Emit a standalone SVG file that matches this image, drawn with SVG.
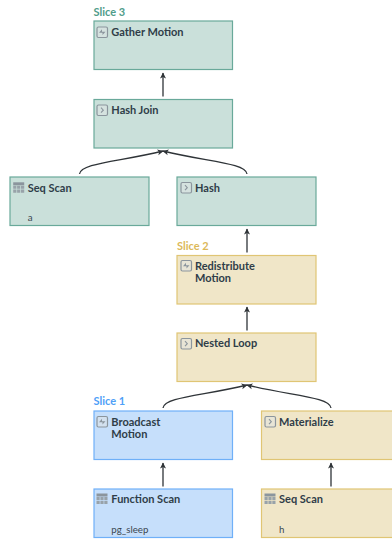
<svg xmlns="http://www.w3.org/2000/svg" width="392" height="540" viewBox="0 0 392 540">
<style>
.box{stroke-width:1.2}
.s3{fill:#cae0da;stroke:#69a99a}
.s2{fill:#f0e6c8;stroke:#e0c574}
.s1{fill:#c6dffb;stroke:#6fb0f8}
.t{font:700 11px Lato,sans-serif;fill:#2f3d48}
.d{font:400 9.700px Lato,sans-serif;fill:#3a4650}
.sl{font:700 11px Lato,sans-serif}
.ic{fill:none;stroke:#8b959d;stroke-width:1.1}
.icb{fill:#dfe3e4;fill-opacity:.5;stroke:#8b959d;stroke-width:1.2}
.c{fill:none;stroke:#2f3438;stroke-width:1.3;marker-end:url(#a)}
</style>
<defs>
<marker id="a" markerUnits="userSpaceOnUse" markerWidth="8" markerHeight="8" refX="6" refY="4" orient="auto"><path d="M0.5 1L6.5 4L0.5 7L2 4Z" fill="#2f3438"/></marker>
<g id="iop"><rect class="icb" x="0.5" y="0.5" width="10.500" height="10.500" rx="1.5"/><path class="ic" d="M4.500 3.200L6.800 5.700L4.500 8.200"/></g>
<g id="imo"><rect class="icb" x="0.5" y="0.5" width="10.500" height="10.500" rx="1.5"/><path d="M2.500 6.200L5.500 2.800V5.200H9L6 8.600V6.200Z" fill="#8b959d"/></g>
<g id="itb"><rect x="0" y="0" width="11" height="3" fill="#8b959d"/><path d="M0 3.500H3.200V6.500H0ZM3.900 3.500H7.100V6.500H3.900ZM7.800 3.500H11V6.500H7.800ZM0 7.200H3.200V10.500H0ZM3.900 7.200H7.100V10.500H3.900ZM7.800 7.200H11V10.500H7.800Z" fill="#98a2a9"/></g>
</defs>
<g id="connectors">
<path class="c" d="M163 96.500V73"/>
<path class="c" d="M79.500 174C81 163 118 162 163 151"/>
<path class="c" d="M247 174C245.500 163 208 162 163 151"/>
<path class="c" d="M247 252.500V229"/>
<path class="c" d="M247 330.500V307"/>
<path class="c" d="M163 408C164.500 397 202 396 247 385"/>
<path class="c" d="M331 408C329.500 397 292 396 247 385"/>
<path class="c" d="M163 486.500V463"/>
<path class="c" d="M331 486.500V463"/>
</g>
<g id="slice3"><text class="sl" x="93.500" y="16" fill="#4f9c8a">Slice 3</text></g>
<g id="slice2"><text class="sl" x="177" y="250" fill="#dcb95a">Slice 2</text></g>
<g id="slice1"><text class="sl" x="93.500" y="405" fill="#4fa0f7">Slice 1</text></g>
<g id="gather"><rect class="box s3" x="94" y="21" width="138.500" height="48.500"/><use href="#imo" x="96.500" y="26.500"/><text class="t" x="111.300" y="36">Gather Motion</text></g>
<g id="hashjoin"><rect class="box s3" x="94" y="99.500" width="138.500" height="48.500"/><use href="#iop" x="96.500" y="104.500"/><text class="t" x="111.300" y="113.500">Hash Join</text></g>
<g id="seqscan-a"><rect class="box s3" x="10" y="177" width="139" height="48.500"/><use href="#itb" x="13.200" y="182.300"/><text class="t" x="27.700" y="192">Seq Scan</text><text class="d" x="27.700" y="220.500">a</text></g>
<g id="hash"><rect class="box s3" x="177" y="177" width="139" height="48.500"/><use href="#iop" x="180.500" y="182"/><text class="t" x="195" y="192">Hash</text></g>
<g id="redistribute"><rect class="box s2" x="177" y="255.500" width="139" height="48.500"/><use href="#imo" x="180.500" y="260"/><text class="t" x="195" y="269.500">Redistribute</text><text class="t" x="195" y="282">Motion</text></g>
<g id="nestedloop"><rect class="box s2" x="177" y="333" width="139" height="48.500"/><use href="#iop" x="180.500" y="338"/><text class="t" x="195" y="347">Nested Loop</text></g>
<g id="broadcast"><rect class="box s1" x="94" y="411" width="138.500" height="48.500"/><use href="#imo" x="96.500" y="416"/><text class="t" x="111.300" y="425.500">Broadcast</text><text class="t" x="111.300" y="438">Motion</text></g>
<g id="materialize"><rect class="box s2" x="261.500" y="411" width="139" height="48.500"/><use href="#iop" x="264.500" y="416"/><text class="t" x="279" y="425.500">Materialize</text></g>
<g id="functionscan"><rect class="box s1" x="94" y="489" width="138.500" height="48.500"/><use href="#itb" x="96.500" y="493.500"/><text class="t" x="111.300" y="503">Function Scan</text><text class="d" x="111.300" y="533">pg_sleep</text></g>
<g id="seqscan-h"><rect class="box s2" x="261.500" y="489" width="139" height="48.500"/><use href="#itb" x="264.500" y="493.500"/><text class="t" x="279" y="503">Seq Scan</text><text class="d" x="279" y="533">h</text></g>
</svg>
